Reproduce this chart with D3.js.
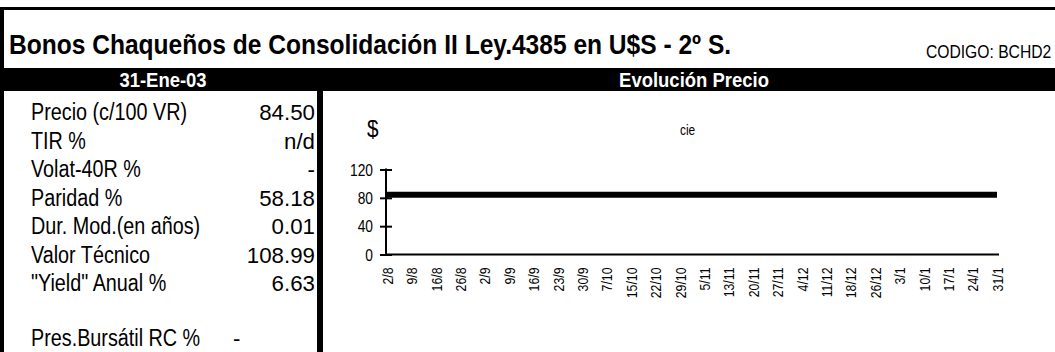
<!DOCTYPE html>
<html>
<head>
<meta charset="utf-8">
<script src="https://cdn.jsdelivr.net/npm/d3@7"></script>
<style>
  html, body { margin: 0; padding: 0; background: #fff; }
  svg { display: block; }
  text { font-family: "Liberation Sans", Arial, sans-serif; fill: #000; }
</style>
</head>
<body>
<svg id="chart" width="1055" height="352"></svg>
<script>
// Header texts
const titleText = "Bonos Chaqueños de Consolidación II Ley.4385 en U$S - 2º S.";
const codeText = "CODIGO: BCHD2";
const dateText = "31-Ene-03";
const chartTitle = "Evolución Precio";

// Summary table
const statLabels = ["Precio (c/100 VR)", "TIR %", "Volat-40R %", "Paridad %", "Dur. Mod.(en años)", "Valor Técnico", "\"Yield\" Anual %"];
const statValues = ["84.50", "n/d", "-", "58.18", "0.01", "108.99", "6.63"];
const extraLabel = "Pres.Bursátil RC %";
const extraValue = "-";

// Price series (weekly dates, Aug-2002 to Jan-2003)
const dates = ["2/8", "9/8", "16/8", "26/8", "2/9", "9/9", "16/9", "23/9", "30/9", "7/10", "15/10", "22/10", "29/10",
               "5/11", "13/11", "20/11", "27/11", "4/12", "11/12", "18/12", "26/12", "3/1", "10/1", "17/1", "24/1", "31/1"];
const prices = [84.5, 84.5, 84.5, 84.5, 84.5, 84.5, 84.5, 84.5, 84.5, 84.5, 84.5, 84.5, 84.5,
                84.5, 84.5, 84.5, 84.5, 84.5, 84.5, 84.5, 84.5, 84.5, 84.5, 84.5, 84.5, 84.5];
const yTicks = [0, 40, 80, 120];

const svg = d3.select("#chart");

// Condensed-looking text: regular sans squeezed horizontally by `sx`
function label(g, x, y, str, size, sx, opts = {}) {
  return g.append("text")
    .attr("transform", `translate(${x},${y}) scale(${sx},1)`)
    .attr("text-anchor", opts.anchor || "start")
    .style("font-size", size + "px")
    .style("font-weight", opts.bold ? "bold" : null)
    .style("fill", opts.fill || "#000")
    .text(str);
}

// Frame: top and left rules
svg.append("rect").attr("x", 0).attr("y", 7).attr("width", 1055).attr("height", 3).attr("fill", "#000");
svg.append("rect").attr("x", 0).attr("y", 7).attr("width", 4).attr("height", 345).attr("fill", "#000");

// Title row
label(svg, 9, 54, titleText, 27, 0.91, { bold: true });
label(svg, 926, 58, codeText, 18, 0.87);

// Black band with section headings
svg.append("rect").attr("x", 0).attr("y", 68).attr("width", 1055).attr("height", 23).attr("fill", "#000");
label(svg, 163, 87, dateText, 21, 0.88, { bold: true, anchor: "middle", fill: "#fff" });
label(svg, 694, 87, chartTitle, 21, 0.88, { bold: true, anchor: "middle", fill: "#fff" });

// Divider between table and chart
svg.append("rect").attr("x", 317).attr("y", 91).attr("width", 6).attr("height", 261).attr("fill", "#000");

// Summary table rows
const rowY = d3.scaleLinear().domain([0, 1]).range([120, 148.5]);
const rows = svg.append("g");
statLabels.forEach((lab, i) => {
  label(rows, 31, rowY(i), lab, 23, 0.86);
  label(rows, 315, rowY(i), statValues[i], 23, 0.97, { anchor: "end" });
});
label(rows, 31, 346, extraLabel, 23, 0.86);
label(rows, 233, 346, extraValue, 23, 0.97);

// Chart annotations
label(svg, 367, 137, "$", 23, 0.9);
label(svg, 680, 135, "cie", 14, 0.85);

// Scales
const x = d3.scalePoint().domain(dates).range([387, 997]);
const y = d3.scaleLinear().domain([0, 120]).range([254.5, 169.5]);

// Y axis with crossing ticks
const yAxis = svg.append("g").attr("transform", "translate(386,0)")
  .call(d3.axisLeft(y).tickValues(yTicks).tickSizeOuter(0));
yAxis.select(".domain").remove();
yAxis.selectAll(".tick line").attr("x1", -6).attr("x2", 6).attr("stroke", "#000").attr("stroke-width", 2);
yAxis.selectAll(".tick text")
  .style("font-size", "16px").style("font-family", null)
  .attr("x", null).attr("dy", "0.35em")
  .attr("transform", "translate(-13,0) scale(0.86,1)");
yAxis.append("line").attr("x1", 0).attr("x2", 0).attr("y1", y(120) - 1).attr("y2", y(0) + 1)
  .attr("stroke", "#000").attr("stroke-width", 2);

// X axis: rotated date labels
const xAxis = svg.append("g").attr("transform", `translate(0,${y(0)})`)
  .call(d3.axisBottom(x).tickSize(0).tickPadding(0));
xAxis.select(".domain").remove();
xAxis.selectAll(".tick text")
  .style("font-size", "15px").style("font-family", null)
  .attr("text-anchor", "end")
  .attr("x", null).attr("y", null).attr("dy", "0.35em")
  .attr("transform", "rotate(-90) translate(-13,0) scale(0.82,1)");
svg.append("line").attr("x1", 386).attr("x2", x(dates[dates.length - 1]) + 2)
  .attr("y1", y(0)).attr("y2", y(0)).attr("stroke", "#000").attr("stroke-width", 2);

// Price line
const line = d3.line().x((d, i) => x(dates[i])).y(d => y(d));
svg.append("path").datum(prices).attr("d", line)
  .attr("fill", "none").attr("stroke", "#000").attr("stroke-width", 6);
</script>
</body>
</html>
